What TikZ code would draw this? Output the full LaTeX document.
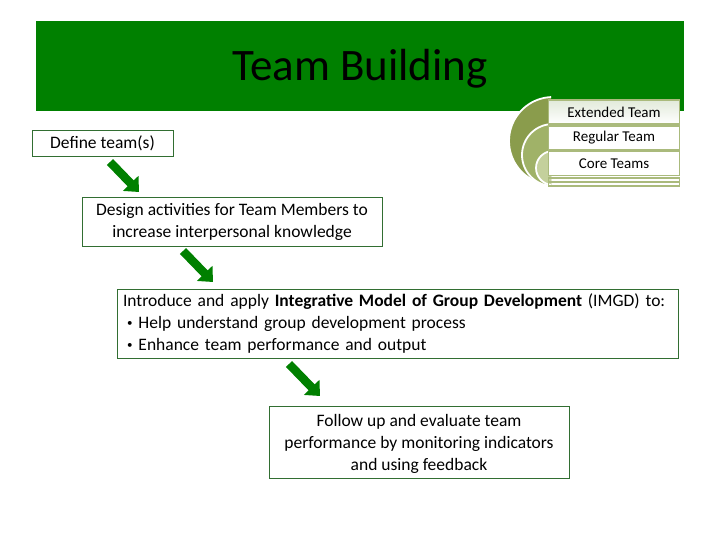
\documentclass[tikz,border=0pt]{standalone}
\usepackage{fontspec}
\setmainfont{Carlito}
\usepackage{tikz}
\usetikzlibrary{arrows.meta}
\definecolor{TitleGreen}{RGB}{0,128,0}
\definecolor{BoxGreen}{RGB}{50,110,50}
\definecolor{ArrowGreen}{RGB}{0,128,0}
\definecolor{OliveA}{RGB}{138,156,76}
\definecolor{OliveB}{RGB}{160,178,104}
\definecolor{OliveC}{RGB}{196,208,156}
\definecolor{RowEdge}{RGB}{170,186,124}
\definecolor{RowTint}{RGB}{226,234,218}

\newcommand{\smallbul}{\hspace*{4pt}\raisebox{1.5pt}{\fontsize{11}{11}\selectfont\textbullet}\hspace{6pt}}

\tikzset{
  stepbox/.style={draw=BoxGreen, line width=0.8pt, fill=white, inner sep=0pt,
    font=\fontsize{17.5}{22}\selectfont, align=center},
  rowbox/.style={draw=RowEdge, line width=1.6pt, fill=white, inner sep=0pt,
    minimum width=131pt, minimum height=24pt, font=\fontsize{15}{17}\selectfont},
  fatarrow/.style={draw=ArrowGreen, line width=8.5pt,
    -{Triangle[width=21pt,length=12pt]}},
}

\begin{document}
\begin{tikzpicture}[x=1pt,y=-1pt]
  \useasboundingbox (0,0) rectangle (720,540);

  % ----- TITLE BAR -----
  \fill[TitleGreen] (36,21) rectangle (684,111);
  \node[font=\fontsize{45}{54}\selectfont] (title) at (360,69) {Team Building};

  % ----- NESTED ARCS (extended / regular / core) -----
  \begin{scope}
    \clip (490,90) rectangle (551,186);
    \foreach \cy/\r/\col in {141/44/OliveA, 155/31/OliveB, 168/17/OliveC} {%
      \filldraw[fill=\col, draw=white, line width=1.8pt] (553,\cy) circle (\r);
    }%
  \end{scope}

  % rows
  \node[rowbox, top color=RowTint, bottom color=white] (ext) at (614,112) {Extended Team};
  \foreach \nm/\lbl/\y in {reg/Regular Team/138, core/Core Teams/163.5} {%
    \node[rowbox] (\nm) at (614,\y) {\lbl};
  }%
  \draw[RowEdge, line width=1.6pt] (548.5,178) rectangle (679.5,182);
  \draw[RowEdge, line width=1.6pt] (548.5,182) rectangle (679.5,186);

  % ----- PROCESS BOXES -----
  \node[stepbox, minimum width=141pt, minimum height=26pt] (define) at (102.5,143) {Define team(s)};
  \node[stepbox, minimum width=300pt, minimum height=49pt] (design) at (232,221.5)
    {Design activities for Team Members to\\increase interpersonal knowledge};
  \node[stepbox, minimum width=561pt, minimum height=69pt, text width=549pt, align=left] (imgd) at (397.5,323.5)
    {Introduce and apply \textbf{Integrative Model of Group Development} (IMGD) to:\\
     \smallbul Help understand group development process\\
     \smallbul Enhance team performance and output};
  \node[stepbox, minimum width=300pt, minimum height=72pt, text depth=0pt] (follow) at (419,442)
    {Follow up and evaluate team\\performance by monitoring indicators\\and using feedback};

  % ----- ARROWS -----
  \coordinate (a1s) at (110,162);
  \coordinate (a1e) at (139,192);
  \coordinate (a2s) at (183,251);
  \coordinate (a2e) at (213,282);
  \coordinate (a3s) at (289,364);
  \coordinate (a3e) at (320,396);
  \draw[fatarrow] (a1s) -- (a1e);
  \draw[fatarrow] (a2s) -- (a2e);
  \draw[fatarrow] (a3s) -- (a3e);
\end{tikzpicture}
\end{document}
